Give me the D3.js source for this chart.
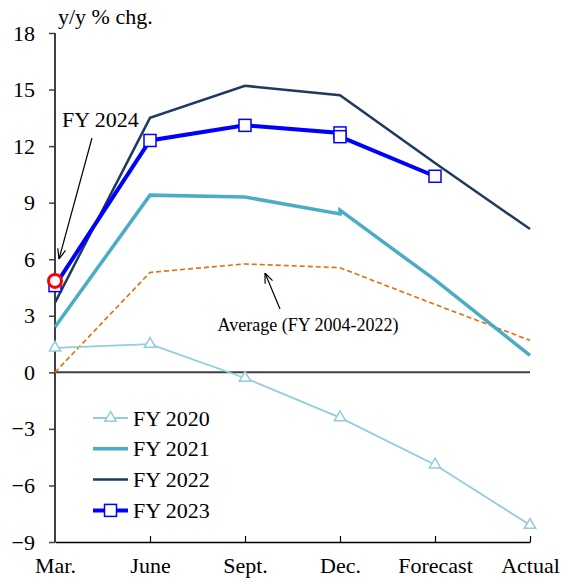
<!DOCTYPE html>
<html><head><meta charset="utf-8">
<script src="https://cdn.jsdelivr.net/npm/d3@7"></script>
<style>body{margin:0;background:#fff}svg{display:block}text{font-family:"Liberation Serif","Times New Roman",serif;fill:#000}</style>
</head><body>
<script>
const categories = ["Mar.","June","Sept.","Dec.","Forecast","Actual"];
const yTicks = [-9,-6,-3,0,3,6,9,12,15,18];
// [category index, value]; Dec. may hold two values (before / after revision)
const fy2020 = [[0,1.3],[1,1.5],[2,-0.3],[3,-2.4],[4,-4.9],[5,-8.1]];
const fy2021 = [[0,2.4],[1,9.4],[2,9.3],[3,8.4],[3,8.6],[4,4.9],[5,0.9]];
const fy2022 = [[0,3.7],[1,13.5],[2,15.2],[3,14.7],[4,11.1],[5,7.6]];
const fy2023 = [[0,4.6],[1,12.3],[2,13.1],[3,12.7],[3,12.5],[4,10.4]];
const average = [[0,0],[1,5.3],[2,5.75],[3,5.55],[4,3.6],[5,1.7]];
const fy2024 = [[0,4.85]];

const W=566,H=578;
const svg=d3.select("body").append("svg").attr("width",W).attr("height",H);
const x=d3.scalePoint().domain(categories).range([55,530]);
const y=d3.scaleLinear().domain([-9,18]).range([542,33]);
const px=d=>x(categories[d[0]]), py=d=>y(d[1]);
const line=d3.line().x(px).y(py);
const FS="22px";

// y axis
const yAxis=d3.axisLeft(y).tickValues(yTicks).tickSize(6).tickPadding(14);
const gy=svg.append("g").attr("transform","translate(55,0)").call(yAxis);
gy.select(".domain").attr("stroke","#404040").attr("stroke-width",2).attr("d","M0,33V542");
gy.selectAll(".tick line").attr("stroke","#404040").attr("stroke-width",1.5);
gy.selectAll(".tick text").style("font-size",FS).style("font-family","Liberation Serif").attr("fill","#000");

// bottom axis at -9
const xAxis=d3.axisBottom(x).tickSize(0).tickPadding(15);
const gx=svg.append("g").attr("transform",`translate(0,${y(-9)})`).call(xAxis);
gx.select(".domain").attr("stroke","#000").attr("stroke-width",1.5);
gx.selectAll(".tick text").style("font-size",FS).style("font-family","Liberation Serif").attr("fill","#000");
gx.selectAll(".tick").filter(d=>d!=="Mar.").append("line").attr("y1",0).attr("y2",-6).attr("stroke","#000").attr("stroke-width",1.2);

// zero line
svg.append("line").attr("x1",55).attr("x2",530).attr("y1",y(0)).attr("y2",y(0)).attr("stroke","#404040").attr("stroke-width",2);

svg.append("text").attr("x",58).attr("y",24).style("font-size",FS).text("y/y % chg.");

// series
svg.append("path").datum(average).attr("d",line).attr("fill","none").attr("stroke","#E46C0A").attr("stroke-width",1.6).attr("stroke-dasharray","5,3");
svg.append("path").datum(fy2020).attr("d",line).attr("fill","none").attr("stroke","#92CDDC").attr("stroke-width",1.8);
svg.append("path").datum(fy2021).attr("d",line).attr("fill","none").attr("stroke","#4BACC6").attr("stroke-width",3.5);
svg.append("path").datum(fy2022).attr("d",line).attr("fill","none").attr("stroke","#1F3A5F").attr("stroke-width",2.5);
svg.append("path").datum(fy2023).attr("d",line).attr("fill","none").attr("stroke","#0000FF").attr("stroke-width",4);

const tri=d3.symbol().type(d3.symbolTriangle).size(55);
svg.selectAll(".t20").data(fy2020).join("path").attr("transform",d=>`translate(${px(d)},${py(d)})`).attr("d",tri).attr("fill","#fff").attr("stroke","#92CDDC").attr("stroke-width",1.5);
svg.selectAll(".s23").data(fy2023).join("rect").attr("x",d=>px(d)-6).attr("y",d=>py(d)-6).attr("width",12).attr("height",12).attr("fill","#fff").attr("stroke","#0000FF").attr("stroke-width",1.5);
svg.selectAll(".c24").data(fy2024).join("circle").attr("cx",px).attr("cy",py).attr("r",6.5).attr("fill","#fff").attr("stroke","#FF0000").attr("stroke-width",3);

// annotations
svg.append("defs").append("marker").attr("id","arr").attr("viewBox","0 0 10 10").attr("refX",10).attr("refY",5).attr("markerWidth",10).attr("markerHeight",10).attr("orient","auto").attr("markerUnits","userSpaceOnUse")
  .append("path").attr("d","M0,1L10,5L0,9").attr("fill","none").attr("stroke","#000").attr("stroke-width",1.2);
svg.append("text").attr("x",62).attr("y",127).style("font-size",FS).text("FY 2024");
svg.append("line").attr("x1",92).attr("y1",138).attr("x2",59).attr("y2",259).attr("stroke","#000").attr("stroke-width",1.2).attr("marker-end","url(#arr)");
svg.append("text").attr("x",308).attr("y",331).attr("text-anchor","middle").style("font-size","18px").text("Average (FY 2004-2022)");
svg.append("line").attr("x1",280).attr("y1",309).attr("x2",265).attr("y2",273).attr("stroke","#000").attr("stroke-width",1.2).attr("marker-end","url(#arr)");

// legend
const legend=[{n:"FY 2020",c:"#92CDDC",w:1.8,m:"tri"},{n:"FY 2021",c:"#4BACC6",w:3.5},{n:"FY 2022",c:"#1F3A5F",w:2.5},{n:"FY 2023",c:"#0000FF",w:4,m:"sq"}];
const lg=svg.append("g");
legend.forEach((d,i)=>{
  const yy=418+i*30.8;
  lg.append("line").attr("x1",93).attr("x2",128).attr("y1",yy).attr("y2",yy).attr("stroke",d.c).attr("stroke-width",d.w);
  if(d.m==="tri") lg.append("path").attr("transform",`translate(110.5,${yy})`).attr("d",tri).attr("fill","#fff").attr("stroke",d.c).attr("stroke-width",1.5);
  if(d.m==="sq") lg.append("rect").attr("x",104.5).attr("y",yy-6).attr("width",12).attr("height",12).attr("fill","#fff").attr("stroke",d.c).attr("stroke-width",1.5);
  lg.append("text").attr("x",133).attr("y",yy+7.5).style("font-size",FS).text(d.n);
});
</script>
</body></html>
